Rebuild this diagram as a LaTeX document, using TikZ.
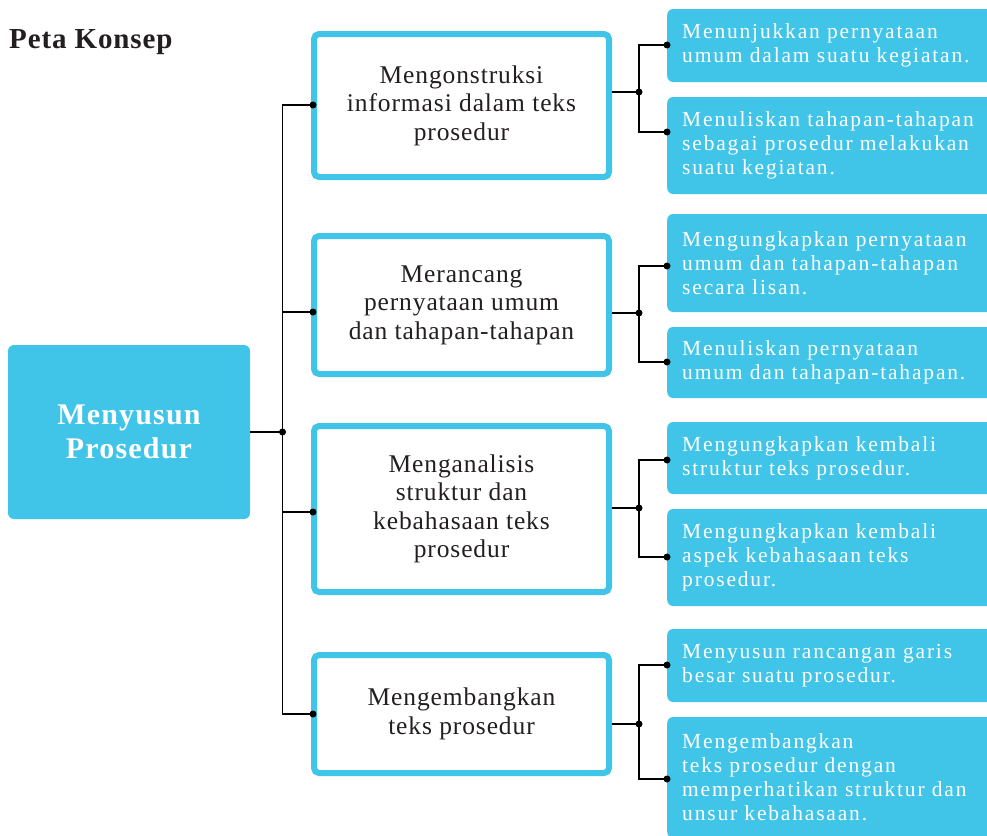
\documentclass[tikz,border=0pt]{standalone}
\usepackage{fontspec}
\setmainfont{Liberation Serif}
\newfontfamily\midfont[LetterSpace=3.5]{Liberation Serif}
\newfontfamily\rightfont[LetterSpace=8.5]{Liberation Serif}
\newfontfamily\headfont[LetterSpace=4]{Liberation Serif}
\newfontfamily\titlefont[LetterSpace=3]{Liberation Serif}
\definecolor{cyanbox}{HTML}{40C4E8}
\definecolor{ink}{HTML}{231F20}
\tikzset{
  midbox/.style={draw=cyanbox, line width=6pt, rounded corners=5pt, fill=white,
    minimum width=295pt, inner sep=0pt, align=center, text=ink,
    font=\midfont\fontsize{25.5}{28.5}\selectfont},
  rightbox/.style={fill=cyanbox, rounded corners=6pt, anchor=west, text width=320pt,
    inner xsep=15pt, inner ysep=0pt, align=left, text=white,
    font=\rightfont\fontsize{21.5}{24}\selectfont},
  mainbox/.style={fill=cyanbox, rounded corners=6pt, minimum width=242pt, minimum height=174pt,
    inner sep=0pt, align=center, text=white, font=\headfont\bfseries\fontsize{30}{34}\selectfont},
  conn/.style={line width=1.5pt, draw=black},
  dotc/.style={fill=black}
}
\begin{document}
\begin{tikzpicture}[x=1pt, y=-1pt]
\useasboundingbox (0,0) rectangle (987,835);
\clip (0,0) rectangle (987,835);

\node[anchor=base west, inner sep=0pt, text=ink, font=\titlefont\bfseries\fontsize{29}{34}\selectfont] (title) at (9,48) {Peta Konsep};

\node[mainbox] (main) at (129,432) {Menyusun\\Prosedur};

\node[midbox, minimum height=143pt] (b1) at (461.5,105.5) {Mengonstruksi\\informasi dalam teks\\prosedur};
\node[midbox, minimum height=138pt] (b2) at (461.5,305) {Merancang\\pernyataan umum\\dan tahapan-tahapan};
\node[midbox, minimum height=166pt] (b3) at (461.5,509) {Menganalisis\\struktur dan\\kebahasaan teks\\prosedur};
\node[midbox, minimum height=118pt] (b4) at (461.5,714) {Mengembangkan\\teks prosedur};

\node[rightbox, minimum height=73pt] (r1) at (667,45.5) {Menunjukkan pernyataan\\umum dalam suatu kegiatan.};
\node[rightbox, minimum height=97pt] (r2) at (667,145.5) {Menuliskan tahapan-tahapan\\sebagai prosedur melakukan\\suatu kegiatan.};
\node[rightbox, minimum height=98pt] (r3) at (667,263) {Mengungkapkan pernyataan\\umum dan tahapan-tahapan\\secara lisan.};
\node[rightbox, minimum height=71pt] (r4) at (667,362.5) {Menuliskan pernyataan\\umum dan tahapan-tahapan.};
\node[rightbox, minimum height=72pt] (r5) at (667,458) {Mengungkapkan kembali\\struktur teks prosedur.};
\node[rightbox, minimum height=97pt] (r6) at (667,557.5) {Mengungkapkan kembali\\aspek kebahasaan teks\\prosedur.};
\node[rightbox, minimum height=73pt] (r7) at (667,665.5) {Menyusun rancangan garis\\besar suatu prosedur.};
\node[rightbox, minimum height=121pt] (r8) at (667,777.5) {Mengembangkan\\teks prosedur dengan\\memperhatikan struktur dan\\unsur kebahasaan.};

% left trunk
\coordinate (t) at (282.5,432);
\draw[conn] (main.east |- t) -- (t);
\draw[conn] (b1.west |- 0,105) -| (t);
\draw[conn] (t) |- (b4.west |- 0,714);
\draw[conn] (t |- 0,312) -- (b2.west |- 0,312);
\draw[conn] (t |- 0,512) -- (b3.west |- 0,512);
\foreach \yy/\bb in {105/b1,312/b2,512/b3,714/b4}{
  \fill[dotc] ([xshift=2pt]\bb.west |- 0,\yy) circle (3.5pt);
}
\fill[dotc] (t) circle (3.5pt);

% right junctions
\coordinate (j1) at (639,92);
\coordinate (j2) at (639,313);
\coordinate (j3) at (639,508);
\coordinate (j4) at (639,724);
\draw[conn] (b1.east |- j1) -- (j1);
\draw[conn] (b2.east |- j2) -- (j2);
\draw[conn] (b3.east |- j3) -- (j3);
\draw[conn] (b4.east |- j4) -- (j4);
\draw[conn] (r1.west |- 0,45) -| (j1) |- (r2.west |- 0,132);
\draw[conn] (r3.west |- 0,266) -| (j2) |- (r4.west |- 0,362);
\draw[conn] (r5.west |- 0,460) -| (j3) |- (r6.west |- 0,557);
\draw[conn] (r7.west |- 0,665) -| (j4) |- (r8.west |- 0,779);
\foreach \jj in {j1,j2,j3,j4}{ \fill[dotc] (\jj) circle (3.5pt); }
\foreach \yy/\rr in {45/r1,132/r2,266/r3,362/r4,460/r5,557/r6,665/r7,779/r8}{
  \fill[dotc] (\rr.west |- 0,\yy) circle (3.5pt);
}
\end{tikzpicture}
\end{document}
